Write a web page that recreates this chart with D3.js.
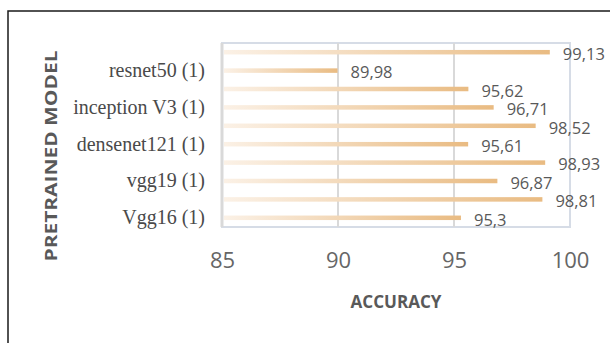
<!DOCTYPE html>
<html>
<head>
<meta charset="utf-8">
<script src="https://cdn.jsdelivr.net/npm/d3@7"></script>
<style>
  html, body { margin: 0; padding: 0; background: #fff; }
  svg { display: block; }
</style>
</head>
<body>
<svg id="chart" width="610" height="343"></svg>
<script>
// Model variants, listed bottom to top as the axis reads
const models = [
  "Vgg16 (1)", "Vgg16 (2)",
  "vgg19 (1)", "vgg19 (2)",
  "densenet121 (1)", "densenet121 (2)",
  "inception V3 (1)", "inception V3 (2)",
  "resnet50 (1)", "resnet50 (2)"
];
const accuracy = [95.3, 98.81, 96.87, 98.93, 95.61, 98.52, 96.71, 95.62, 89.98, 99.13];
const xTicks = [85, 90, 95, 100];
const xDomain = [85, 100];

const svg = d3.select("#chart");
const W = 610, H = 343;
const plot = { left: 222, right: 570, top: 43, bottom: 227 };
const numFont = "'Liberation Sans Narrow', 'Arial Narrow', 'Open Sans', sans-serif";

// Outer chart frame
svg.append("rect")
  .attr("x", 8).attr("y", 11)
  .attr("width", W + 10).attr("height", H + 10)
  .attr("fill", "#fff").attr("stroke", "#1a1a1a").attr("stroke-width", 1.5);

const x = d3.scaleLinear().domain(xDomain).range([plot.left, plot.right]);
const y = d3.scaleBand()
  .domain(models.slice().reverse())
  .range([plot.top, plot.bottom])
  .paddingInner(0).paddingOuter(0);

// Bar fill: pale at the base, warm tan at the tip
const defs = svg.append("defs");
const grad = defs.append("linearGradient")
  .attr("id", "barFill")
  .attr("x1", "0%").attr("x2", "100%").attr("y1", "0%").attr("y2", "0%");
grad.append("stop").attr("offset", "0%").attr("stop-color", "#fbf1e6");
grad.append("stop").attr("offset", "100%").attr("stop-color", "#e9bb82");

// Plot area border
svg.append("rect")
  .attr("x", plot.left).attr("y", plot.top)
  .attr("width", plot.right - plot.left).attr("height", plot.bottom - plot.top)
  .attr("fill", "none").attr("stroke", "#d6dce6").attr("stroke-width", 2);

// Vertical gridlines
svg.append("g")
  .selectAll("line")
  .data(xTicks.slice(1, -1))
  .join("line")
  .attr("x1", d => x(d)).attr("x2", d => x(d))
  .attr("y1", plot.top).attr("y2", plot.bottom)
  .attr("stroke", "#d9d9d9").attr("stroke-width", 2);

// Category axis line
svg.append("line")
  .attr("x1", plot.left).attr("x2", plot.left)
  .attr("y1", plot.top).attr("y2", plot.bottom)
  .attr("stroke", "#d9d9d9").attr("stroke-width", 3);

// Bars
const barH = 4.5;
svg.append("g")
  .selectAll("rect")
  .data(models.map((m, i) => ({ m, v: accuracy[i] })))
  .join("rect")
  .attr("x", x(xDomain[0]) + 2)
  .attr("y", d => y(d.m) + y.bandwidth() / 2 - barH / 2)
  .attr("width", d => x(d.v) - x(xDomain[0]) - 2)
  .attr("height", barH)
  .attr("fill", "url(#barFill)");

// Value labels, decimal comma
const fmt = v => String(v).replace(".", ",");
svg.append("g")
  .selectAll("text")
  .data(models.map((m, i) => ({ m, v: accuracy[i] })))
  .join("text")
  .attr("x", d => x(d.v) + 13)
  .attr("y", d => y(d.m) + y.bandwidth() / 2 + 2)
  .attr("dy", "0.35em")
  .attr("font-family", numFont)
  .attr("font-size", 16.5)
  .attr("fill", "#595959")
  .text(d => fmt(d.v));

// Category labels: every other variant is shown
const yAxis = d3.axisLeft(y)
  .tickValues(models.filter((m, i) => i % 2 === 0))
  .tickSize(0).tickPadding(17);
const gy = svg.append("g")
  .attr("transform", `translate(${plot.left},0)`)
  .call(yAxis);
gy.select(".domain").remove();
gy.selectAll("text")
  .attr("font-family", "'Liberation Serif', 'Times New Roman', serif")
  .attr("font-size", 20)
  .attr("fill", "#4a4a4a");

// Value axis labels
const xAxis = d3.axisBottom(x).tickValues(xTicks).tickSize(0).tickPadding(25);
const gx = svg.append("g")
  .attr("transform", `translate(0,${plot.bottom})`)
  .call(xAxis);
gx.select(".domain").remove();
gx.selectAll("text")
  .attr("font-family", numFont)
  .attr("font-size", 22)
  .attr("fill", "#666666");

// Axis titles
svg.append("text")
  .attr("x", (plot.left + plot.right) / 2)
  .attr("y", 302)
  .attr("dy", "0.35em")
  .attr("text-anchor", "middle")
  .attr("font-family", "'Open Sans', sans-serif")
  .attr("font-weight", 700)
  .attr("font-size", 17)
  .attr("textLength", 91)
  .attr("lengthAdjust", "spacingAndGlyphs")
  .attr("fill", "#595959")
  .text("ACCURACY");

svg.append("text")
  .attr("transform", "translate(51,156) rotate(-90)")
  .attr("dy", "0.35em")
  .attr("text-anchor", "middle")
  .attr("font-family", "'Open Sans', sans-serif")
  .attr("font-weight", 700)
  .attr("font-size", 16.5)
  .attr("textLength", 211)
  .attr("lengthAdjust", "spacingAndGlyphs")
  .attr("fill", "#595959")
  .text("PRETRAINED MODEL");
</script>
</body>
</html>
